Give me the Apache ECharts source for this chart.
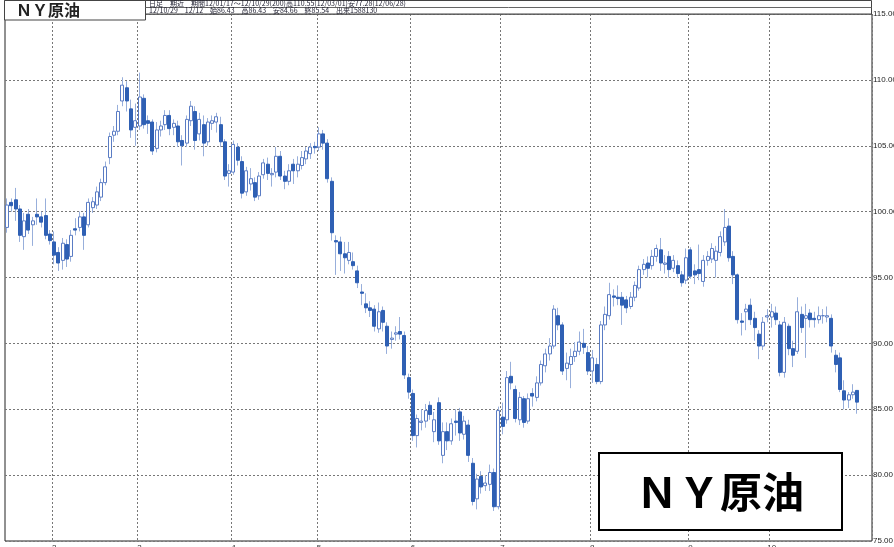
<!DOCTYPE html>
<html><head><meta charset="utf-8">
<script src="https://cdn.jsdelivr.net/npm/echarts@6/dist/echarts.min.js"></script>
<style>html,body{margin:0;padding:0;background:#fff;}#c{width:894px;height:547px;}</style>
</head><body><div id="c"></div>
<script>
const dates = [
'2012-01-17','2012-01-18','2012-01-19','2012-01-20','2012-01-23','2012-01-24','2012-01-25','2012-01-26','2012-01-27','2012-01-30','2012-01-31',
'2012-02-01','2012-02-02','2012-02-03','2012-02-06','2012-02-07','2012-02-08','2012-02-09','2012-02-10','2012-02-13','2012-02-14','2012-02-15','2012-02-16','2012-02-17','2012-02-21','2012-02-22','2012-02-23','2012-02-24','2012-02-27','2012-02-28','2012-02-29',
'2012-03-01','2012-03-02','2012-03-05','2012-03-06','2012-03-07','2012-03-08','2012-03-09','2012-03-12','2012-03-13','2012-03-14','2012-03-15','2012-03-16','2012-03-19','2012-03-20','2012-03-21','2012-03-22','2012-03-23','2012-03-26','2012-03-27','2012-03-28','2012-03-29','2012-03-30',
'2012-04-02','2012-04-03','2012-04-04','2012-04-05','2012-04-09','2012-04-10','2012-04-11','2012-04-12','2012-04-13','2012-04-16','2012-04-17','2012-04-18','2012-04-19','2012-04-20','2012-04-23','2012-04-24','2012-04-25','2012-04-26','2012-04-27','2012-04-30',
'2012-05-01','2012-05-02','2012-05-03','2012-05-04','2012-05-07','2012-05-08','2012-05-09','2012-05-10','2012-05-11','2012-05-14','2012-05-15','2012-05-16','2012-05-17','2012-05-18','2012-05-21','2012-05-22','2012-05-23','2012-05-24','2012-05-25','2012-05-29','2012-05-30','2012-05-31',
'2012-06-01','2012-06-04','2012-06-05','2012-06-06','2012-06-07','2012-06-08','2012-06-11','2012-06-12','2012-06-13','2012-06-14','2012-06-15','2012-06-18','2012-06-19','2012-06-20','2012-06-21','2012-06-22','2012-06-25','2012-06-26','2012-06-27','2012-06-28','2012-06-29',
'2012-07-02','2012-07-03','2012-07-05','2012-07-06','2012-07-09','2012-07-10','2012-07-11','2012-07-12','2012-07-13','2012-07-16','2012-07-17','2012-07-18','2012-07-19','2012-07-20','2012-07-23','2012-07-24','2012-07-25','2012-07-26','2012-07-27','2012-07-30','2012-07-31',
'2012-08-01','2012-08-02','2012-08-03','2012-08-06','2012-08-07','2012-08-08','2012-08-09','2012-08-10','2012-08-13','2012-08-14','2012-08-15','2012-08-16','2012-08-17','2012-08-20','2012-08-21','2012-08-22','2012-08-23','2012-08-24','2012-08-27','2012-08-28','2012-08-29','2012-08-30','2012-08-31',
'2012-09-04','2012-09-05','2012-09-06','2012-09-07','2012-09-10','2012-09-11','2012-09-12','2012-09-13','2012-09-14','2012-09-17','2012-09-18','2012-09-19','2012-09-20','2012-09-21','2012-09-24','2012-09-25','2012-09-26','2012-09-27','2012-09-28',
'2012-10-01','2012-10-02','2012-10-03','2012-10-04','2012-10-05','2012-10-08','2012-10-09','2012-10-10','2012-10-11','2012-10-12','2012-10-15','2012-10-16','2012-10-17','2012-10-18','2012-10-19','2012-10-22','2012-10-23','2012-10-24','2012-10-25','2012-10-26','2012-10-29'
];
const opens = [
98.8,100.7,100.9,100.2,98.1,99.8,99.0,99.8,99.6,99.7,
98.3,97.7,96.9,96.3,97.5,96.6,98.7,98.8,99.6,99.0,
100.3,100.5,101.1,102.2,104.1,105.8,106.1,108.4,109.4,107.8,
106.4,106.5,108.6,106.9,106.8,104.8,106.2,106.6,107.3,106.4,
106.5,105.4,105.2,106.9,107.6,105.9,106.6,105.3,106.7,106.8,
106.6,105.3,102.9,103.0,104.9,103.8,101.5,102.1,102.2,101.2,
102.8,103.6,102.8,103.0,104.2,102.7,102.3,103.6,103.1,103.5,
104.0,104.4,104.95,104.9,105.9,105.2,102.3,97.8,97.7,96.8,
96.3,96.2,95.5,93.9,93.0,92.7,92.6,91.1,92.5,91.3,
90.3,90.7,90.9,90.6,87.4,86.2,83.0,84.0,84.1,85.3,
83.3,85.5,81.5,83.3,82.6,84.1,84.8,83.1,83.8,80.9,
78.2,79.9,79.2,79.3,80.2,77.6,84.4,84.2,87.5,86.5,
84.2,85.8,84.1,86.2,85.9,87.0,88.3,89.2,89.8,92.1,
91.4,88.1,88.4,89.0,89.4,90.0,89.3,87.9,88.4,87.1,
91.4,92.1,93.6,93.5,93.5,93.3,92.8,93.5,94.2,95.6,
96.1,95.9,96.6,97.1,96.0,96.6,95.7,95.9,95.2,94.8,
97.1,95.5,95.6,94.7,96.3,96.4,96.3,96.9,97.7,98.9,
96.6,95.2,91.7,92.4,92.9,91.9,90.7,89.8,92.0,92.0,
92.3,91.4,87.8,91.3,89.6,89.4,92.2,91.9,92.3,91.9,
91.8,92.1,92.0,91.9,89.1,88.9,86.4,85.7,86.1,86.43
];
const closes = [
100.5,100.45,100.2,98.2,99.3,98.6,99.3,99.6,99.2,98.2,
97.8,96.7,96.1,97.6,96.4,98.2,98.6,99.6,98.2,100.7,
100.75,101.5,102.2,103.4,105.7,106.1,107.6,109.6,108.4,106.2,
106.9,108.7,106.6,106.7,104.6,106.2,106.5,107.3,106.3,106.7,
105.3,105.0,107.0,108.0,105.4,107.0,105.2,106.8,106.9,107.2,
105.3,102.7,103.1,105.1,103.9,101.4,103.1,102.5,101.1,102.7,
103.7,102.9,102.9,104.2,102.7,102.3,103.1,103.1,103.6,104.1,
104.6,104.9,104.85,105.9,105.2,102.5,98.4,97.7,96.8,96.5,
96.9,95.9,94.6,93.8,92.7,92.5,91.3,92.4,91.6,89.8,
90.4,90.8,90.7,87.6,86.3,83.0,84.3,84.1,84.9,84.6,
84.2,82.6,83.3,82.6,83.9,84.0,83.2,84.1,81.5,78.0,
79.7,79.1,79.4,80.2,77.6,84.9,83.7,87.4,87.0,84.3,
85.9,84.0,85.8,86.0,87.0,88.4,89.2,89.8,92.6,91.4,
87.9,88.5,89.0,89.4,90.1,89.7,87.9,88.9,87.1,91.4,
92.2,93.7,93.5,93.4,92.9,92.7,93.5,94.4,95.6,96.0,
95.7,96.6,97.2,96.1,96.1,95.6,96.3,95.3,94.6,96.5,
95.1,95.2,95.3,96.3,96.6,97.2,97.0,98.1,98.8,96.5,
95.2,91.8,91.6,92.6,91.8,91.2,89.8,91.6,92.1,92.4,
91.8,87.8,91.6,89.6,89.1,92.4,91.2,92.1,91.8,91.8,
92.1,92.1,92.1,89.8,88.4,86.5,85.7,86.1,86.3,85.54
];
const lows = [
98.4,100.0,99.3,97.7,97.1,98.3,97.4,99.0,98.8,97.9,
97.5,96.0,95.5,95.6,95.8,96.2,98.2,98.5,97.1,98.8,
99.9,100.2,100.8,102.0,103.6,105.3,105.8,108.0,107.6,105.6,
105.0,106.2,106.3,105.9,104.3,104.5,105.7,106.2,105.8,105.8,
104.9,103.5,104.9,106.5,104.7,105.4,104.2,105.0,106.2,106.0,
104.9,102.4,101.9,102.8,103.5,101.0,101.2,101.6,100.8,100.9,
102.5,102.4,101.9,102.6,102.4,101.7,102.0,102.1,102.6,103.2,
103.6,104.0,104.4,104.6,104.7,102.2,97.8,95.2,95.5,95.3,
96.0,95.6,94.2,92.9,92.3,92.0,90.9,90.8,90.9,89.2,
89.6,90.2,90.3,87.3,85.8,82.6,82.1,83.4,83.6,84.2,
82.5,82.3,80.9,81.9,82.3,83.0,82.6,82.7,81.0,77.7,
77.4,78.6,78.8,78.8,77.28,77.4,83.1,83.9,86.5,84.0,
83.8,83.6,83.9,85.2,85.6,86.8,87.8,88.7,89.6,91.0,
87.6,87.2,86.6,88.6,89.1,89.2,87.6,87.0,86.9,86.9,
91.0,91.8,92.8,92.9,91.4,92.3,92.6,93.2,94.0,95.2,
95.0,95.6,96.2,95.5,95.3,95.0,95.4,95.0,94.3,94.5,
94.9,94.5,94.8,94.3,95.9,96.1,95.0,96.6,97.4,96.2,
94.5,91.5,90.6,91.0,91.4,90.2,88.8,89.5,91.6,91.2,
91.4,87.5,87.4,89.1,88.2,89.2,90.8,88.9,91.2,91.2,
91.5,91.5,91.6,89.3,87.8,86.3,85.0,85.1,85.8,84.66
];
const highs = [
101.0,101.0,101.8,100.5,99.9,100.2,99.6,101.0,100.0,101.0,
98.6,98.5,97.3,98.0,97.9,98.6,99.5,100.0,99.9,101.0,
101.1,101.9,102.5,103.8,106.0,106.5,108.1,110.2,109.9,108.5,
108.2,110.55,108.9,107.3,107.0,106.8,106.9,107.7,107.7,107.0,
106.9,105.8,107.3,108.4,108.0,107.5,107.3,107.1,107.3,107.5,
107.2,105.5,103.6,105.4,105.2,104.2,103.4,103.3,102.6,103.0,
104.0,104.1,103.3,104.9,104.6,103.1,103.6,104.0,104.2,104.6,
104.9,105.2,105.3,106.4,106.2,105.5,102.6,98.2,98.1,97.7,
97.7,96.9,95.9,94.5,93.8,93.2,92.9,93.1,92.8,91.6,
90.9,91.3,92.0,90.9,87.7,86.5,84.6,85.0,85.4,85.6,
84.8,85.9,84.0,84.0,84.3,85.0,85.1,84.5,84.2,81.3,
80.1,80.3,80.0,80.8,80.5,85.2,85.5,87.9,88.6,86.8,
86.3,86.0,86.2,86.6,87.5,88.7,89.6,90.4,92.9,92.7,
91.6,89.3,89.6,90.1,90.9,91.1,89.8,89.5,88.9,91.7,
92.8,94.6,94.1,94.4,93.9,93.6,93.9,94.7,95.9,96.4,
96.6,97.1,97.5,98.0,96.7,97.0,96.7,96.3,95.5,97.2,
97.3,96.0,97.5,96.7,97.0,97.6,97.4,98.5,100.2,99.5,
97.0,95.3,92.3,93.0,93.4,92.4,91.0,92.0,92.6,93.0,
92.8,91.7,92.0,91.5,90.2,93.5,92.8,93.0,92.6,92.4,
92.8,92.6,92.8,92.2,89.5,89.3,87.2,86.3,86.9,86.43
];
const priceTicks = [75, 80, 85, 90, 95, 100, 105, 110, 115];
const titleText = 'ＮＹ原油';
const infoLine1 = '日足　期近　期間12/01/17～12/10/29(200)高110.55(12/03/01)安77.28(12/06/28)';
const infoLine2 = '12/10/29　12/12　始86.43　高86.43　安84.66　終85.54　出来1588130';

const monthStarts = new Set();
for (let i = 1; i < dates.length; i++) {
  if (dates[i].slice(5, 7) !== dates[i - 1].slice(5, 7)) monthStarts.add(i);
}
const categories = dates.concat(['', '', '']);
const wickData = dates.map((d, i) => [opens[i], closes[i], lows[i], highs[i]]);
const bodyData = dates.map((d, i) => [opens[i], closes[i], Math.min(opens[i], closes[i]), Math.max(opens[i], closes[i])]);

const chart = echarts.init(document.getElementById('c'), null, {renderer: 'canvas'});
const lblFont = 'Liberation Sans, Arial, sans-serif';
chart.setOption({
  animation: false,
  backgroundColor: '#ffffff',
  grid: {left: 5, right: 22, top: 14, bottom: 6, show: true, borderColor: '#222', borderWidth: 1,
         backgroundColor: 'transparent', containLabel: false, outerBoundsMode: 'none'},
  xAxis: {
    type: 'category', data: categories, boundaryGap: true,
    axisLine: {show: false}, axisTick: {show: false},
    axisLabel: {
      interval: (i) => monthStarts.has(i),
      formatter: (v) => v ? String(parseInt(v.slice(5, 7), 10)) : '',
      fontSize: 8, color: '#333', margin: 3, fontFamily: lblFont
    },
    splitLine: {show: true, interval: (i) => monthStarts.has(i), lineStyle: {color: '#777', width: 1, type: [2, 2]}}
  },
  yAxis: {
    type: 'value', position: 'right', min: priceTicks[0], max: priceTicks[priceTicks.length - 1], interval: 5,
    axisLine: {show: false}, axisTick: {show: false},
    axisLabel: {formatter: (v) => v.toFixed(2), fontSize: 8, color: '#222', margin: 1, fontFamily: lblFont},
    splitLine: {show: true, lineStyle: {color: '#777', width: 1, type: [2, 2]}}
  },
  series: [
    {type: 'candlestick', name: 'wick', data: wickData, barWidth: 1, silent: true,
     itemStyle: {color: '#98afdb', color0: '#98afdb', borderColor: '#98afdb', borderColor0: '#98afdb', borderWidth: 1}},
    {type: 'candlestick', name: 'body', data: bodyData, barWidth: 3.5, silent: true,
     itemStyle: {color: '#ffffff', color0: '#2f60b4', borderColor: '#5a7cc4', borderColor0: '#2f60b4', borderWidth: 1}}
  ],
  graphic: [
    {type: 'rect', z: 100, shape: {x: 4.5, y: 0.5, width: 867, height: 13.5}, style: {fill: '#fff', stroke: '#444', lineWidth: 1}},
    {type: 'rect', z: 101, shape: {x: 4.5, y: 0.5, width: 141, height: 19.5}, style: {fill: '#fff', stroke: '#444', lineWidth: 1}},
    {type: 'line', z: 101, shape: {x1: 145.5, y1: 7.5, x2: 871.5, y2: 7.5}, style: {stroke: '#666', lineWidth: 1}},
    {type: 'text', z: 102, left: 16, top: 2, style: {text: titleText, font: 'bold 16px "Noto Sans CJK JP"', fill: '#222'}},
    {type: 'text', z: 102, left: 149, top: 0, style: {text: infoLine1, font: '7px "Noto Sans CJK JP"', fill: '#223'}},
    {type: 'text', z: 102, left: 149, top: 7, style: {text: infoLine2, font: '7px "Noto Sans CJK JP"', fill: '#223'}},
    {type: 'rect', z: 100, shape: {x: 599, y: 453, width: 243, height: 77}, style: {fill: '#fff', stroke: '#000', lineWidth: 2}},
    {type: 'text', z: 102, x: 720, y: 492, style: {text: titleText, font: 'bold 42px "Noto Sans CJK JP"', fill: '#000', align: 'center', verticalAlign: 'middle'}}
  ]
});
</script>
</body></html>
